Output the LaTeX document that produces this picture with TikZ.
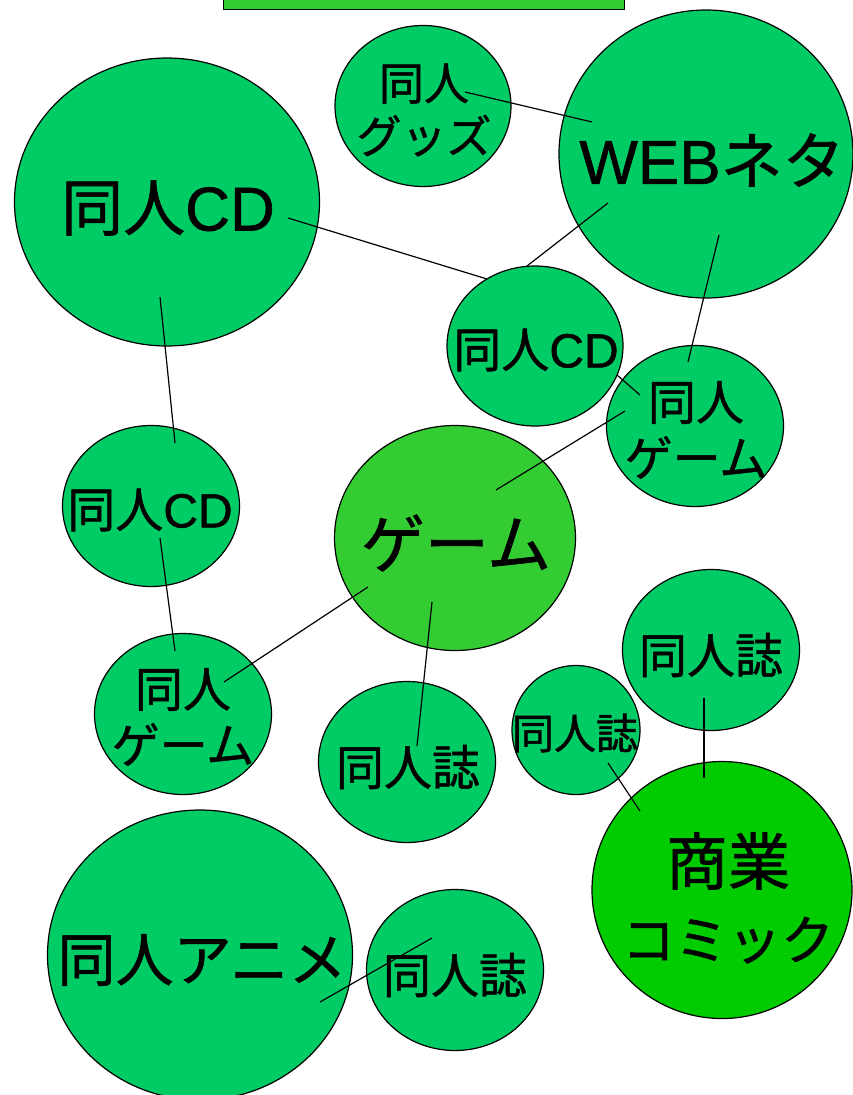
\documentclass[tikz,border=0pt]{standalone}
\usepackage{fontspec}
\setmainfont[FakeBold=1]{Noto Sans CJK JP}
\newfontfamily\lat[FakeBold=1]{Liberation Sans}
\usetikzlibrary{shapes.geometric,calc}
\definecolor{gA}{HTML}{00CC66}
\definecolor{gB}{HTML}{33CC33}
\definecolor{gC}{HTML}{00CC00}
\tikzset{
  bub/.style={ellipse,draw=black,line width=1.2pt,fill=gA,inner sep=0pt},
  link/.style={draw=black,line width=1.2pt},
  tx/.style={align=center,inner sep=0pt,text=black},
  midf/.style={font=\fontsize{48}{56}\selectfont},
}
\begin{document}
\begin{tikzpicture}[x=1pt,y=-1pt]
\useasboundingbox (0,0) rectangle (853,1095);
\node[draw=black,line width=1.2pt,fill=gB,minimum width=401pt,minimum height=60pt,inner sep=0pt,anchor=south west] (top) at (223,10) {};
% bubbles (all but cdM)
\node[bub,minimum width=305pt,minimum height=288pt] (cdA) at (167,202) {};
\node[bub,minimum width=294pt,minimum height=288pt] (web) at (706,154) {};
\node[bub,minimum width=176pt,minimum height=161pt] (gd) at (423,106) {};
\node[bub,minimum width=177pt,minimum height=161pt] (gmR) at (695,426) {};
\node[bub,minimum width=177pt,minimum height=161pt] (cdL) at (151,506) {};
\node[bub,fill=gB,minimum width=241pt,minimum height=225pt] (gm) at (455,538) {};
\node[bub,minimum width=177pt,minimum height=161pt] (gmL) at (183,714) {};
\node[bub,minimum width=177pt,minimum height=161pt] (zm) at (407,762) {};
\node[bub,minimum width=177pt,minimum height=161pt] (zr) at (711,650) {};
\node[bub,minimum width=128pt,minimum height=129pt] (zs) at (576,730) {};
\node[bub,fill=gC,minimum width=260pt,minimum height=257pt] (com) at (722,890) {};
\node[bub,minimum width=305pt,minimum height=290pt] (an) at (200,955) {};
\node[bub,minimum width=177pt,minimum height=161pt] (zb) at (455,970) {};
% links hidden under cdM
\coordinate (cdMc) at (535,346);
\draw[link] ($(cdA)+(121,16)$) -- ($(cdMc)+(-48,-67)$);
\draw[link] ($(web)+(-98,49)$) -- ($(cdMc)+(-8,-80)$);
\draw[link] ($(cdMc)+(82,29)$) -- ($(gmR)+(-55,-31)$);
\node[bub,minimum width=176pt,minimum height=160pt] (cdM) at (cdMc) {};
% other links
\draw[link] ($(gd)+(42,-14)$) -- ($(web)+(-114,-32)$);
\draw[link] ($(web)+(13,81)$) -- ($(gmR)+(-7,-64)$);
\draw[link] ($(gm)+(41,-48)$) -- ($(gmR)+(-70,-15)$);
\draw[link] ($(cdA)+(-7,95)$) -- ($(cdL)+(24,-63)$);
\draw[link] ($(cdL)+(9,32)$) -- ($(gmL)+(-8,-63)$);
\draw[link] ($(gm)+(-87,49)$) -- ($(gmL)+(41,-32)$);
\draw[link] ($(gm)+(-23,64)$) -- ($(zm)+(10,-16)$);
\draw[link] ($(zs)+(32,33)$) -- ($(com)+(-82,-79)$);
\draw[link] ($(zr)+(-7,48)$) -- ($(com)+(-18,-112)$);
\draw[link] ($(an)+(120,47)$) -- ($(zb)+(-23,-32)$);
% texts
\node[tx,font=\fontsize{45}{53}\selectfont] (tgd) at ($(gd)+(1,4)$) {同人\\グッズ};
\node[tx,font=\fontsize{62}{72}\selectfont] (tweb) at ($(web)+(6,6)$) {{\lat WEB}ネタ};
\node[tx,font=\fontsize{62}{72}\selectfont] (tcdA) at ($(cdA)+(1,6)$) {同人{\lat CD}};
\node[tx,midf] (tcdM) at ($(cdM)+(1,4)$) {同人{\lat CD}};
\node[tx,midf] (tgmR) at ($(gmR)+(1,4)$) {同人\\ゲーム};
\node[tx,midf] (tcdL) at ($(cdL)+(-1,4)$) {同人{\lat CD}};
\node[tx,font=\fontsize{64}{72}\selectfont] (tgm) at ($(gm)+(1,5)$) {ゲーム};
\node[tx,midf] (tgmL) at ($(gmL)+(0,3)$) {同人\\ゲーム};
\node[tx,midf] (tzm) at ($(zm)+(1,5)$) {同人誌};
\node[tx,font=\fontsize{42}{50}\selectfont] (tzs) at ($(zs)+(-1,3)$) {同人誌};
\node[tx,midf] (tzr) at ($(zr)+(0,5)$) {同人誌};
\node[tx,font=\fontsize{62}{75}\selectfont] (tcom) at ($(com)+(6,8)$) {商業\\{\fontsize{53}{75}\selectfont コミック}};
\node[tx,font=\fontsize{58}{72}\selectfont] (tan) at ($(an)+(2,5)$) {同人アニメ};
\node[tx,midf] (tzb) at ($(zb)+(0,5)$) {同人誌};
\end{tikzpicture}
\end{document}
